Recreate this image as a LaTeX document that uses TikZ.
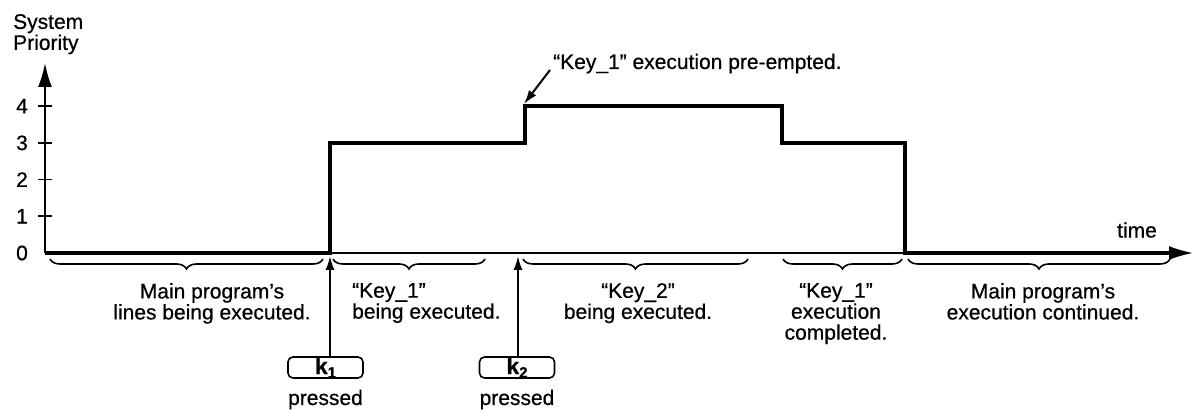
\documentclass[tikz,border=0pt]{standalone}
\usepackage{fontspec}
\setmainfont{Liberation Sans}[FakeBold=0.6]
\usetikzlibrary{arrows.meta,decorations.pathreplacing}
\begin{document}
\begin{tikzpicture}[x=1pt,y=-1pt,
  lbl/.style={font=\fontsize{21}{21}\selectfont, inner sep=0pt, align=center},
  curve/.style={line width=4.5pt, line join=miter},
  axisline/.style={line width=2pt},
  brc/.style={decorate, decoration={brace,mirror,amplitude=10pt,aspect=0.5}, line width=1.6pt},
  keybox/.style={draw, line width=1.6pt, rounded corners=5pt, minimum width=75pt, minimum height=21pt, inner sep=0pt, font=\fontsize{23}{23}\selectfont\bfseries},
  ptr/.style={line width=2pt, -{Latex[length=14pt,width=9pt]}},
  bigarrow/.style={-{Latex[length=24pt,width=14pt]}},
  tick/.style={line width=1.6pt}
]
\useasboundingbox (0,0) rectangle (1195,411);

% axes
\coordinate (O) at (45,253);
\coordinate (Ytop) at (45,63);
\coordinate (Xend) at (1193,253);
\draw[axisline,bigarrow] (O) -- (Ytop);
\draw[axisline,bigarrow] (O) -- (Xend);

% ticks and labels
\foreach \i/\yy in {1/216.3,2/179.6,3/142.9,4/106.2}{
  \coordinate (t\i) at (45,\yy);
  \draw[tick] ([xshift=-7pt]t\i) -- ([xshift=7pt]t\i);
  \node[lbl] (tl\i) at (22,\yy) {\i};
}
\node[lbl] (tl0) at (22,253) {0};

\node[lbl, anchor=north west, align=left] (sysprio) at (13,14) {System\\Priority};
\node[lbl] (time) at (1137,230) {time};

% priority curve
\coordinate (s1) at (330,253);
\coordinate (s1t) at (330,142.9);
\coordinate (s2) at (525,142.9);
\coordinate (s2t) at (525,106.2);
\coordinate (s3) at (782,106.2);
\coordinate (s3b) at (782,142.9);
\coordinate (s4) at (905,142.9);
\coordinate (s4b) at (905,253);
\coordinate (cend) at (1172,253);
\draw[curve] (O) -- (s1) -- (s1t) -- (s2) -- (s2t) -- (s3) -- (s3b) -- (s4) -- (s4b) -- (cend);

% pre-empted annotation
\node[lbl, anchor=base west] (pre) at (553,69) {“Key\_1” execution pre-empted.};
\coordinate (preS) at (550,70);
\coordinate (preE) at (524,104);
\draw[ptr] (preS) -- (preE);

% braces
\coordinate (b1a) at (50,259);  \coordinate (b1b) at (323,259);
\coordinate (b2a) at (333,259); \coordinate (b2b) at (485,259);
\coordinate (b3a) at (523,259); \coordinate (b3b) at (748,259);
\coordinate (b4a) at (783,259); \coordinate (b4b) at (902,259);
\coordinate (b5a) at (908,259); \coordinate (b5b) at (1170,259);
\draw[brc] (b1a) -- (b1b);
\draw[brc] (b2a) -- (b2b);
\draw[brc] (b3a) -- (b3b);
\draw[brc] (b4a) -- (b4b);
\draw[brc] (b5a) -- (b5b);

% brace labels
\node[lbl, anchor=north] (lab1) at (212,283) {Main program’s\\lines being executed.};
\node[lbl, anchor=north west, align=left] (lab2) at (352,283) {“Key\_1”\\being executed.};
\node[lbl, anchor=north] (lab3) at (638,283) {“Key\_2”\\being executed.};
\node[lbl, anchor=north] (lab4) at (836,283) {“Key\_1”\\execution\\completed.};
\node[lbl, anchor=north] (lab5) at (1043,283) {Main program’s\\execution continued.};

% keys
\node[keybox] (k1) at (325.5,367.5) {k\raisebox{-3.5pt}{\fontsize{15}{15}\selectfont 1}};
\node[keybox] (k2) at (517,367.5) {k\raisebox{-3.5pt}{\fontsize{15}{15}\selectfont 2}};
\node[lbl, anchor=base] (p1) at (325.5,405) {pressed};
\node[lbl, anchor=base] (p2) at (517,405) {pressed};
\coordinate (a1) at (330,256);
\coordinate (a2) at (518,256);
\draw[ptr] (k1.north -| a1) -- (a1);
\draw[ptr] (k2.north -| a2) -- (a2);
\end{tikzpicture}
\end{document}
